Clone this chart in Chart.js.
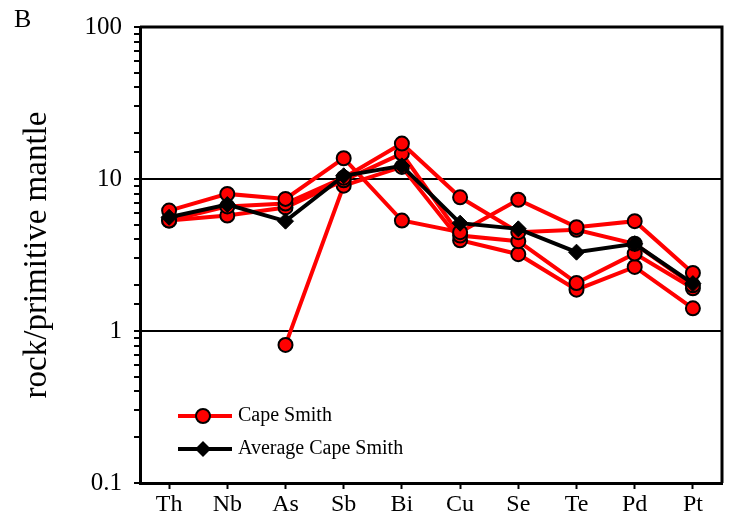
<!DOCTYPE html>
<html>
<head>
<meta charset="utf-8">
<script src="https://cdn.jsdelivr.net/npm/chart.js@4/dist/chart.umd.min.js"></script>
<style>
  html, body { margin: 0; padding: 0; background: #fff; }
  #wrap { width: 732px; height: 524px; position: relative; }
</style>
</head>
<body>
<div id="wrap"><canvas id="myChart"></canvas></div>
<script>
// elements on the x axis
const elements = ['Th', 'Nb', 'As', 'Sb', 'Bi', 'Cu', 'Se', 'Te', 'Pd', 'Pt'];

// rock / primitive mantle, one array per Cape Smith sample
const capeSmith1 = [6.2, 7.98, 7.4, 13.7, 5.33, 4.47, 7.3, 4.82, 5.28, 2.41];
const capeSmith2 = [5.33, 6.6, 6.9, 10.2, 17.1, 7.58, 4.47, 4.63, 3.75, 2.0];
const capeSmith3 = [5.33, 5.75, 6.5, 9.8, 14.7, 4.25, 3.9, 2.07, 3.23, 1.91];
const capeSmith4 = [null, null, 0.81, 9.04, 12.0, 3.95, 3.2, 1.87, 2.64, 1.41];
const avgCapeSmith = [5.6, 6.79, 5.28, 10.5, 12.2, 5.12, 4.7, 3.3, 3.75, 2.05];

const yLabels = [0.1, 1, 10, 100];

const serif = "'Liberation Serif', 'Times New Roman', serif";

function redSeries(values) {
  return {
    label: 'Cape Smith',
    data: values,
    borderColor: '#ff0000',
    borderWidth: 4,
    pointStyle: 'circle',
    pointRadius: 7,
    pointBackgroundColor: '#ff0000',
    pointBorderColor: '#000',
    pointBorderWidth: 2,
    tension: 0,
    order: 1
  };
}

// frame on top / right, panel letter and the legend
const extras = {
  id: 'extras',
  afterDraw(chart) {
    const ctx = chart.ctx;
    const a = chart.chartArea;
    ctx.save();
    ctx.strokeStyle = '#000';
    ctx.lineWidth = 3;
    ctx.beginPath();
    ctx.moveTo(a.left, a.top);
    ctx.lineTo(a.right, a.top);
    ctx.lineTo(a.right, a.bottom);
    ctx.stroke();

    ctx.fillStyle = '#000';
    ctx.font = '26px ' + serif;
    ctx.textBaseline = 'top';
    ctx.fillText('B', 14, 7);

    // legend
    const lx = a.left + 38, ly1 = a.bottom - 67, ly2 = a.bottom - 34;
    ctx.lineWidth = 4;
    ctx.strokeStyle = '#ff0000';
    ctx.beginPath(); ctx.moveTo(lx, ly1); ctx.lineTo(lx + 54, ly1); ctx.stroke();
    ctx.beginPath(); ctx.arc(lx + 25, ly1, 7, 0, Math.PI * 2);
    ctx.fillStyle = '#ff0000'; ctx.fill();
    ctx.lineWidth = 2; ctx.strokeStyle = '#000'; ctx.stroke();

    ctx.lineWidth = 4;
    ctx.beginPath(); ctx.moveTo(lx, ly2); ctx.lineTo(lx + 54, ly2); ctx.stroke();
    ctx.beginPath();
    ctx.moveTo(lx + 25, ly2 - 8); ctx.lineTo(lx + 33, ly2);
    ctx.lineTo(lx + 25, ly2 + 8); ctx.lineTo(lx + 17, ly2);
    ctx.closePath();
    ctx.fillStyle = '#000'; ctx.fill();

    ctx.font = '20px ' + serif;
    ctx.textBaseline = 'middle';
    ctx.fillText('Cape Smith', lx + 60, ly1);
    ctx.fillText('Average Cape Smith', lx + 60, ly2);
    ctx.restore();
  }
};

new Chart('myChart', {
  type: 'line',
  data: {
    labels: elements,
    datasets: [
      {
        label: 'Average Cape Smith',
        data: avgCapeSmith,
        borderColor: '#000',
        borderWidth: 4,
        pointStyle: 'rectRot',
        pointRadius: 8,
        pointBackgroundColor: '#000',
        pointBorderColor: '#000',
        pointBorderWidth: 1,
        tension: 0,
        order: 0
      },
      redSeries(capeSmith1),
      redSeries(capeSmith2),
      redSeries(capeSmith3),
      redSeries(capeSmith4)
    ]
  },
  options: {
    responsive: true,
    maintainAspectRatio: false,
    animation: false,
    layout: { padding: { top: 25, right: 10, left: 0, bottom: 0 } },
    plugins: {
      legend: { display: false },
      tooltip: { enabled: false }
    },
    scales: {
      x: {
        type: 'category',
        offset: true,
        afterFit(s) { s.height = 41; },
        grid: { drawOnChartArea: false, offset: false, tickLength: 6, tickColor: '#000', tickWidth: 2 },
        border: { color: '#000', width: 3 },
        ticks: { color: '#000', padding: 1, font: { family: serif, size: 24 } }
      },
      y: {
        type: 'logarithmic',
        min: 0.1,
        max: 100,
        afterFit(s) { s.width = 140; },
        border: { color: '#000', width: 3 },
        grid: {
          color: (c) => (c.tick && (c.tick.value === 1 || c.tick.value === 10)) ? '#000' : 'rgba(0,0,0,0)',
          lineWidth: 2,
          tickLength: 6,
          tickColor: '#000',
          tickWidth: 2
        },
        ticks: {
          autoSkip: false,
          color: '#000',
          padding: 12,
          font: { family: serif, size: 25 },
          callback: (v) => yLabels.includes(Number(v)) ? String(v) : ''
        },
        title: {
          display: true,
          text: 'rock/primitive mantle',
          color: '#000',
          font: { family: serif, size: 33 },
          padding: { top: 18, bottom: 0 }
        }
      }
    }
  },
  plugins: [extras]
});
</script>
</body>
</html>
